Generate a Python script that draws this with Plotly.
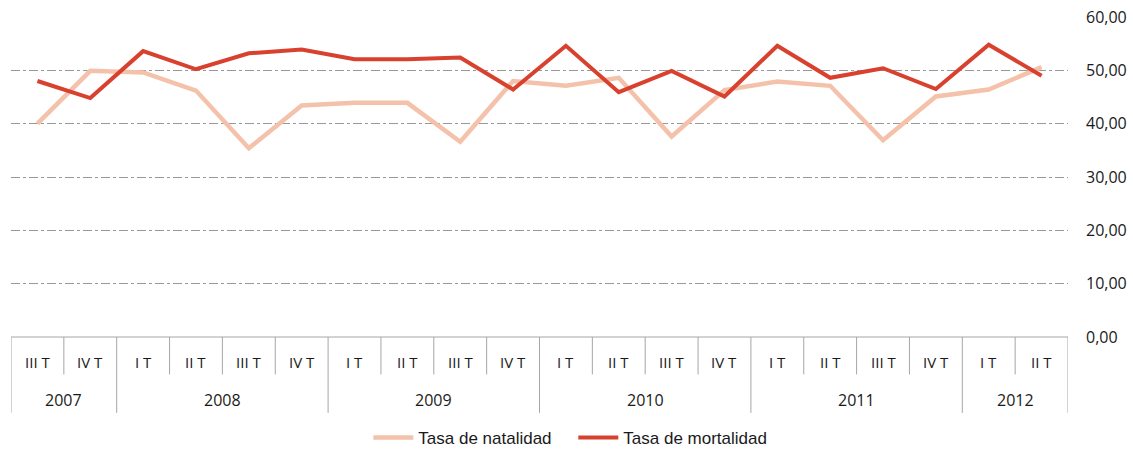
import plotly.graph_objects as go

# quarterly rates, 2007 III T .. 2012 II T
quarters = ['III T', 'IV T', 'I T', 'II T', 'III T', 'IV T', 'I T', 'II T', 'III T', 'IV T',
            'I T', 'II T', 'III T', 'IV T', 'I T', 'II T', 'III T', 'IV T', 'I T', 'II T']
years = ['2007'] * 2 + ['2008'] * 4 + ['2009'] * 4 + ['2010'] * 4 + ['2011'] * 4 + ['2012'] * 2
natalidad = [40.0, 49.9, 49.6, 46.2, 35.4, 43.4, 43.9, 43.9, 36.6, 48.0,
             47.1, 48.6, 37.6, 46.3, 47.9, 47.1, 36.9, 45.1, 46.4, 50.6]
mortalidad = [48.0, 44.8, 53.6, 50.2, 53.2, 53.9, 52.1, 52.1, 52.4, 46.4,
              54.6, 45.9, 49.9, 45.1, 54.6, 48.6, 50.4, 46.5, 54.8, 49.0]
yticks = [0, 10, 20, 30, 40, 50, 60]

idx = list(range(len(quarters)))
fig = go.Figure()
fig.add_trace(go.Scatter(x=idx, y=natalidad, mode='lines', name='Tasa de natalidad',
                         line=dict(color='#F4C2AA', width=4.5)))
fig.add_trace(go.Scatter(x=idx, y=mortalidad, mode='lines', name='Tasa de mortalidad',
                         line=dict(color='#D9412F', width=4)))

# category table below the plot
box = '#A6A6A6'
q_bot, y_bot = -0.117, -0.237
shapes = [dict(type='line', xref='x', yref='paper', x0=-0.5, x1=len(idx) - 0.5, y0=0, y1=0,
               line=dict(color=box, width=1))]
annotations = []
for i in range(len(idx) + 1):
    edge = i == 0 or i == len(idx) or years[i] != years[i - 1]
    shapes.append(dict(type='line', xref='x', yref='paper', x0=i - 0.5, x1=i - 0.5,
                       y0=0, y1=y_bot if edge else q_bot, line=dict(color=box, width=1)))
for i, q in enumerate(quarters):
    annotations.append(dict(x=i, y=-0.078, xref='x', yref='paper', text=q, showarrow=False,
                            yanchor='middle', font=dict(family='Open Sans', size=15, color='#1a1a1a')))
start = 0
for i in range(1, len(idx) + 1):
    if i == len(idx) or years[i] != years[start]:
        annotations.append(dict(x=(start + i - 1) / 2, y=-0.197, xref='x', yref='paper',
                                text=years[start], showarrow=False, yanchor='middle',
                                font=dict(family='Open Sans', size=16, color='#1a1a1a')))
        start = i

fig.update_layout(
    width=1133, height=450,
    margin=dict(l=11, r=65, t=17, b=113, autoexpand=False),
    plot_bgcolor='white', paper_bgcolor='white',
    showlegend=True,
    legend=dict(orientation='h', x=0.506, xanchor='center', xref='container',
                y=0.027, yanchor='middle', yref='container',
                font=dict(family='Liberation Sans', size=17, color='#1a1a1a'),
                itemwidth=40, tracegroupgap=0, entrywidth=150),
    shapes=shapes, annotations=annotations,
)
fig.update_xaxes(range=[-0.5, len(idx) - 0.5], showticklabels=False, showgrid=False,
                 zeroline=False, showline=False, automargin=False)
fig.update_yaxes(range=[0, 60], side='right', tickvals=yticks,
                 ticktext=[('%.2f' % v).replace('.', ',') for v in yticks],
                 tickfont=dict(family='Open Sans', size=16, color='#1a1a1a'),
                 showgrid=True, gridcolor='#999999', griddash='dashdot', gridwidth=1,
                 zeroline=False, showline=False, ticks='', ticklabelstandoff=17,
                 automargin=False)

# drop the page's default body margin so the figure fills the window
fig.write_html('out.html', config={'displayModeBar': False},
               post_script="document.body.style.margin='0';")
